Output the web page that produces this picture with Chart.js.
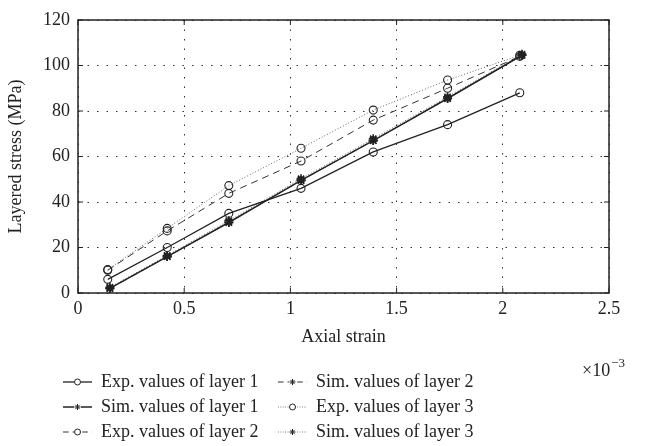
<!DOCTYPE html>
<html>
<head>
<meta charset="utf-8">
<script src="https://cdn.jsdelivr.net/npm/chart.js"></script>
<style>
  html, body { margin: 0; padding: 0; background: #fff; }
  #wrap { width: 646px; height: 446px; }
</style>
</head>
<body>
<div id="wrap"><canvas id="stress"></canvas></div>
<script>
// strain in units of 1e-3, stress in MPa
const expStrain = [0.14, 0.42, 0.71, 1.05, 1.39, 1.74, 2.08];
const simStrain = [0.15, 0.42, 0.71, 1.05, 1.39, 1.74, 2.09];

const expLayer1 = [6, 20, 35, 46, 62, 74, 88];
const simLayer1 = [2, 16, 31, 49.5, 67, 85.5, 104.5];
const expLayer2 = [10, 27.3, 43.8, 58, 76, 90, 104];
const simLayer2 = [2, 16, 31, 49.5, 67, 85.5, 104.5];
const expLayer3 = [10.3, 28.4, 47.2, 63.6, 80.4, 93.6, 104.5];
const simLayer3 = [2.5, 16.5, 31.8, 50.2, 67.8, 86.2, 105];

const seriesNames = [
  'Exp. values of layer 1',
  'Sim. values of layer 1',
  'Exp. values of layer 2',
  'Sim. values of layer 2',
  'Exp. values of layer 3',
  'Sim. values of layer 3'
];

const xTicks = [0, 0.5, 1, 1.5, 2, 2.5];
const yTicks = [0, 20, 40, 60, 80, 100, 120];

const FONT = "'Liberation Serif', 'DejaVu Serif', serif";
const INK = '#222';

function pts(xs, ys) {
  return xs.map((x, i) => ({ x: x, y: ys[i] }));
}

function series(label, xs, ys, dash, marker, color, width) {
  return {
    label: label,
    data: pts(xs, ys),
    borderColor: color,
    borderWidth: width,
    borderDash: dash,
    pointStyle: marker,
    pointRadius: marker === 'star' ? 4.5 : 4,
    pointBorderWidth: marker === 'star' ? 1.6 : 1.1,
    pointBorderColor: INK,
    pointBackgroundColor: 'rgba(255,255,255,0)',
    tension: 0,
    clip: false
  };
}

const datasets = [
  series(seriesNames[0], expStrain, expLayer1, [], 'circle', INK, 1.3),
  series(seriesNames[1], simStrain, simLayer1, [], 'star', INK, 1.5),
  series(seriesNames[2], expStrain, expLayer2, [7, 5], 'circle', '#333', 1),
  series(seriesNames[3], simStrain, simLayer2, [7, 5], 'star', '#333', 1),
  series(seriesNames[4], expStrain, expLayer3, [1, 2], 'circle', '#666', 1),
  series(seriesNames[5], simStrain, simLayer3, [1, 2], 'star', '#666', 1)
];

function drawMarker(ctx, style, x, y, r) {
  ctx.beginPath();
  if (style === 'circle') {
    ctx.arc(x, y, r, 0, Math.PI * 2);
  } else {
    for (let k = 0; k < 4; k++) {
      const a = k * Math.PI / 4;
      ctx.moveTo(x - Math.cos(a) * r, y - Math.sin(a) * r);
      ctx.lineTo(x + Math.cos(a) * r, y + Math.sin(a) * r);
    }
  }
  ctx.stroke();
}

// box around the plot, inward ticks, exponent and legend
const frame = {
  id: 'frame',
  afterDraw(chart) {
    const ctx = chart.ctx;
    const a = chart.chartArea;
    const xs = chart.scales.x, ys = chart.scales.y;
    ctx.save();
    ctx.strokeStyle = INK;
    ctx.setLineDash([]);
    ctx.lineWidth = 1.5;
    ctx.strokeRect(a.left, a.top, a.right - a.left, a.bottom - a.top);
    ctx.lineWidth = 1;
    const tl = 5;
    ctx.beginPath();
    xs.ticks.forEach(t => {
      const px = xs.getPixelForValue(t.value);
      ctx.moveTo(px, a.bottom); ctx.lineTo(px, a.bottom - tl);
      ctx.moveTo(px, a.top); ctx.lineTo(px, a.top + tl);
    });
    ys.ticks.forEach(t => {
      const py = ys.getPixelForValue(t.value);
      ctx.moveTo(a.left, py); ctx.lineTo(a.left + tl, py);
      ctx.moveTo(a.right, py); ctx.lineTo(a.right - tl, py);
    });
    ctx.stroke();

    // x10^-3 multiplier
    ctx.fillStyle = INK;
    ctx.textBaseline = 'alphabetic';
    ctx.textAlign = 'left';
    ctx.font = '18px ' + FONT;
    ctx.fillText('\u00d710', 582, 376);
    const w = ctx.measureText('\u00d710').width;
    ctx.font = '13px ' + FONT;
    ctx.fillText('\u22123', 582 + w + 1, 367);

    // legend, two columns of three
    const colSym = [63, 278];
    const colText = [101, 316];
    const rowY = [382, 407, 432];
    const symW = 29;
    ctx.font = '18px ' + FONT;
    ctx.textBaseline = 'middle';
    chart.data.datasets.forEach((ds, i) => {
      const col = i < 3 ? 0 : 1;
      const y = rowY[i % 3];
      const x0 = colSym[col];
      ctx.strokeStyle = ds.borderColor;
      ctx.lineWidth = ds.borderWidth;
      ctx.setLineDash(ds.borderDash.length ? ds.borderDash.map(v => v * 0.8) : []);
      ctx.beginPath();
      ctx.moveTo(x0, y);
      ctx.lineTo(x0 + symW, y);
      ctx.stroke();
      ctx.setLineDash([]);
      ctx.strokeStyle = INK;
      ctx.lineWidth = 1;
      // clear the line behind the marker
      ctx.fillStyle = '#fff';
      ctx.fillRect(x0 + symW / 2 - 3.5, y - 3.5, 7, 7);
      drawMarker(ctx, ds.pointStyle, x0 + symW / 2, y, 3);
      ctx.fillStyle = INK;
      ctx.fillText(ds.label, colText[col], y);
    });
    ctx.restore();
  }
};

new Chart(document.getElementById('stress'), {
  type: 'line',
  data: { datasets: datasets },
  options: {
    responsive: true,
    maintainAspectRatio: false,
    animation: false,
    layout: { padding: { top: 20, right: 37, bottom: 94, left: 0 } },
    plugins: {
      legend: { display: false },
      tooltip: { enabled: false }
    },
    scales: {
      x: {
        type: 'linear',
        min: 0,
        max: 2.5,
        afterBuildTicks: s => { s.ticks = xTicks.map(v => ({ value: v })); },
        afterFit: s => { s.height = 59; },
        ticks: {
          padding: 5,
          color: INK,
          font: { family: FONT, size: 18 },
          callback: v => String(v)
        },
        grid: { color: '#333', lineWidth: 1, drawTicks: false },
        border: { display: false, dash: [1.5, 8] },
        title: {
          display: true,
          text: 'Axial strain',
          color: INK,
          font: { family: FONT, size: 18 },
          padding: { top: 4, bottom: 4 }
        }
      },
      y: {
        min: 0,
        max: 120,
        afterBuildTicks: s => { s.ticks = yTicks.map(v => ({ value: v })); },
        afterFit: s => { s.width = 78; },
        ticks: {
          padding: 8,
          color: INK,
          font: { family: FONT, size: 18 },
          callback: v => String(v)
        },
        grid: { color: '#333', lineWidth: 1, drawTicks: false },
        border: { display: false, dash: [1.5, 8] },
        title: {
          display: true,
          text: 'Layered stress (MPa)',
          color: INK,
          font: { family: FONT, size: 18 },
          padding: { top: 5, bottom: 4 }
        }
      }
    }
  },
  plugins: [frame]
});
</script>
</body>
</html>
